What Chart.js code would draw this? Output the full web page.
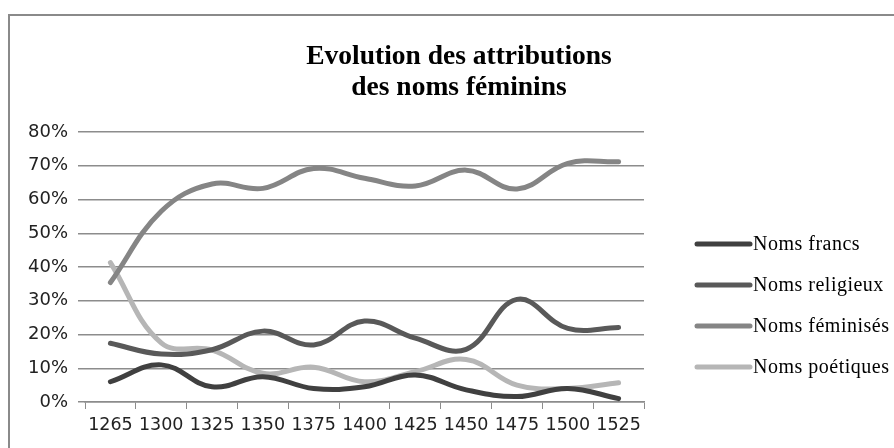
<!DOCTYPE html>
<html>
<head>
<meta charset="utf-8">
<script src="https://cdn.jsdelivr.net/npm/chart.js@4.4.1/dist/chart.umd.min.js"></script>
<style>
  html, body { margin: 0; padding: 0; background: #ffffff; }
  #wrap { position: relative; width: 894px; height: 448px; }
</style>
</head>
<body>
<div id="wrap"><canvas id="c" width="894" height="448"></canvas></div>
<script>
const categories = ['1265','1300','1325','1350','1375','1400','1425','1450','1475','1500','1525'];
const nomsFrancs    = [6, 11, 4.5, 7.5, 4, 4.5, 8, 3.6, 1.6, 4, 1];
const nomsReligieux = [17.4, 14.2, 15.5, 21, 16.9, 24, 18.9, 15.6, 30.4, 21.8, 22.1];
const nomsFeminises = [35.4, 56.5, 64.6, 63.3, 69.2, 66.3, 64, 68.7, 63.1, 70.7, 71.2];
const nomsPoetiques = [41.3, 17.5, 15.4, 8.5, 10.3, 6, 9, 12.6, 5, 4, 5.7];
const seriesLabels  = ['Noms francs', 'Noms religieux', 'Noms féminisés', 'Noms poétiques'];
const titleLines    = ['Evolution des attributions', 'des noms féminins'];

const colors = ['#404040', '#595959', '#858585', '#b6b6b6'];

const frame = {
  id: 'frame',
  beforeDraw(chart) {
    const ctx = chart.ctx;
    ctx.save();
    ctx.fillStyle = '#ffffff';
    ctx.fillRect(0, 0, chart.width, chart.height);
    ctx.strokeStyle = '#8a8a8a';
    ctx.lineWidth = 2;
    ctx.beginPath();
    ctx.moveTo(9, chart.height + 5);
    ctx.lineTo(9, 15);
    ctx.lineTo(chart.width + 5, 15);
    ctx.stroke();
    ctx.restore();
  }
};

const titleAndLegend = {
  id: 'titleAndLegend',
  afterDraw(chart) {
    const ctx = chart.ctx;
    ctx.save();
    // title
    ctx.fillStyle = '#000000';
    ctx.font = 'bold 27.5px "Liberation Serif", "Times New Roman", serif';
    ctx.textAlign = 'center';
    ctx.textBaseline = 'alphabetic';
    titleLines.forEach((t, i) => ctx.fillText(t, 459, 64 + i * 31));
    // legend
    ctx.textAlign = 'left';
    ctx.textBaseline = 'middle';
    ctx.font = '20px "Liberation Serif", "Times New Roman", serif';
    try { ctx.letterSpacing = '0.5px'; } catch (e) {}
    chart.data.datasets.forEach((ds, i) => {
      const y = 244 + i * 41;
      ctx.strokeStyle = ds.borderColor;
      ctx.lineWidth = 5;
      ctx.lineCap = 'round';
      ctx.beginPath();
      ctx.moveTo(697, y);
      ctx.lineTo(750, y);
      ctx.stroke();
      ctx.fillStyle = '#000000';
      ctx.fillText(ds.label, 753, y + 1);
    });
    ctx.restore();
  }
};

const seriesValues = [nomsFrancs, nomsReligieux, nomsFeminises, nomsPoetiques];

new Chart(document.getElementById('c'), {
  type: 'line',
  data: {
    labels: categories,
    datasets: seriesValues.map((vals, i) => ({
      label: seriesLabels[i],
      data: vals,
      borderColor: colors[i],
      backgroundColor: colors[i],
      borderWidth: 5,
      borderCapStyle: 'round',
      borderJoinStyle: 'round',
      pointRadius: 0,
      tension: 0.4,
      fill: false
    }))
  },
  options: {
    responsive: false,
    animation: false,
    devicePixelRatio: 1,
    layout: { padding: { top: 132, right: 250, bottom: 0, left: 0 } },
    plugins: {
      legend: { display: false },
      title: { display: false },
      tooltip: { enabled: false }
    },
    scales: {
      x: {
        offset: true,
        afterFit(scale) { scale.height = 46; },
        grid: {
          offset: true,
          drawOnChartArea: false,
          drawTicks: true,
          tickLength: 7,
          color: '#8c8c8c',
          lineWidth: 1
        },
        border: { display: true, color: '#8c8c8c', width: 1.5 },
        ticks: {
          color: '#222222',
          font: { family: '"DejaVu Sans", Verdana, sans-serif', size: 17.5 },
          padding: 6,
          maxRotation: 0,
          autoSkip: false
        }
      },
      y: {
        min: 0,
        max: 80,
        afterFit(scale) { scale.width = 85; },
        grid: {
          color: '#8c8c8c',
          lineWidth: 1.5,
          tickLength: 7,
          drawTicks: true
        },
        border: { display: false },
        ticks: {
          stepSize: 10,
          color: '#222222',
          font: { family: '"DejaVu Sans", Verdana, sans-serif', size: 18 },
          padding: 10,
          callback: (v) => v + '%'
        }
      }
    }
  },
  plugins: [frame, titleAndLegend]
});
</script>
</body>
</html>
